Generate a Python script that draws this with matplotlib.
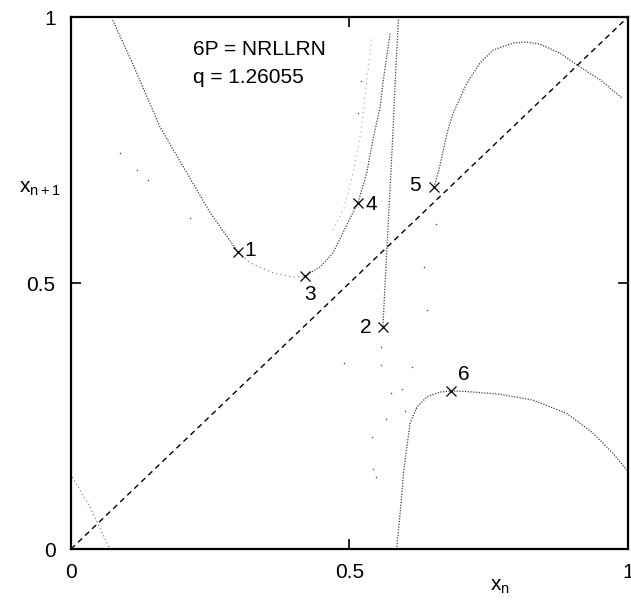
import matplotlib
matplotlib.use("Agg")
import matplotlib.pyplot as plt

plt.rcParams['font.family'] = ['Liberation Sans', 'DejaVu Sans']

# Branches of the return map x_{n+1} vs x_n
branch_a_x = [0.075, 0.110, 0.160, 0.208, 0.250, 0.300]
branch_a_y = [0.994, 0.914, 0.793, 0.707, 0.632, 0.558]

branch_b_x = [0.300, 0.321, 0.363, 0.399, 0.420]
branch_b_y = [0.558, 0.538, 0.519, 0.511, 0.513]

branch_c_x = [0.420, 0.447, 0.470, 0.488, 0.506, 0.515, 0.531, 0.542, 0.555, 0.560, 0.573]
branch_c_y = [0.513, 0.530, 0.556, 0.594, 0.632, 0.650, 0.707, 0.769, 0.831, 0.876, 0.970]

branch_d_x = [0.588, 0.583, 0.578, 0.572, 0.567, 0.563, 0.560]
branch_d_y = [0.995, 0.900, 0.782, 0.660, 0.562, 0.480, 0.417]

branch_e_x = [0.652, 0.662, 0.675, 0.686, 0.711, 0.734, 0.758, 0.794, 0.818, 0.842, 0.878, 0.914, 0.950, 0.989]
branch_e_y = [0.680, 0.719, 0.781, 0.819, 0.876, 0.913, 0.938, 0.951, 0.953, 0.949, 0.932, 0.906, 0.882, 0.848]

branch_f_x = [0.585, 0.591, 0.597, 0.603, 0.609, 0.621, 0.639, 0.662, 0.682, 0.711, 0.770, 0.829, 0.890, 0.937, 0.973, 0.998]
branch_f_y = [0.004, 0.068, 0.143, 0.192, 0.237, 0.267, 0.286, 0.295, 0.297, 0.296, 0.291, 0.280, 0.255, 0.218, 0.180, 0.148]

branch_g_x = [0.002, 0.034, 0.068]
branch_g_y = [0.135, 0.079, 0.004]

# Faint secondary trace next to branch C
branch_h_x = [0.470, 0.490, 0.505, 0.520, 0.530, 0.540]
branch_h_y = [0.600, 0.640, 0.700, 0.780, 0.870, 0.960]

# Isolated iterates
scatter_x = [0.088, 0.118, 0.138, 0.214, 0.557, 0.556, 0.575, 0.565, 0.612, 0.620, 0.548, 0.540, 0.542,
             0.634, 0.640, 0.490, 0.655, 0.595, 0.600, 0.520, 0.515]
scatter_y = [0.744, 0.712, 0.694, 0.622, 0.380, 0.345, 0.293, 0.245, 0.342, 0.265, 0.135, 0.210, 0.150,
             0.530, 0.450, 0.350, 0.610, 0.300, 0.260, 0.880, 0.820]

# Period-6 orbit points (labelled 1..6)
orbit_x = [0.300, 0.560, 0.420, 0.515, 0.652, 0.682]
orbit_y = [0.558, 0.417, 0.513, 0.650, 0.680, 0.297]
orbit_labels = ["1", "2", "3", "4", "5", "6"]

x_ticks = [0, 0.5, 1]
x_tick_labels = ["0", "0.5", "1"]

FS = 15

fig = plt.figure(figsize=(6.31, 6.01), dpi=100)
ax = fig.add_axes([0.1125, 0.0865, 0.8827, 0.8852])

dot_style = dict(color="0.25", lw=0.9, linestyle=(0, (1, 1.2)))
for bx, by in [(branch_a_x, branch_a_y), (branch_c_x, branch_c_y), (branch_d_x, branch_d_y),
               (branch_e_x, branch_e_y), (branch_f_x, branch_f_y)]:
    ax.plot(bx, by, **dot_style)
ax.plot(branch_b_x, branch_b_y, color="0.45", lw=0.8, linestyle=(0, (1, 3)))
ax.plot(branch_g_x, branch_g_y, color="0.45", lw=0.8, linestyle=(0, (1, 2.5)))
ax.plot(branch_h_x, branch_h_y, color="0.55", lw=0.7, linestyle=(0, (1, 4)))
ax.scatter(scatter_x, scatter_y, s=1.2, color="0.3", linewidths=0)

# Diagonal x_{n+1} = x_n
ax.plot([0, 1], [0, 1], color="black", lw=1.0, linestyle=(0, (4, 3)))

ax.plot(orbit_x, orbit_y, linestyle="none", marker="x", color="black", markersize=7, mew=0.9)

offsets = {"1": (9, 1), "2": (-12, 0), "3": (4, -13), "4": (10, -1), "5": (-14, 1), "6": (9, 12)}
for px, py, lab in zip(orbit_x, orbit_y, orbit_labels):
    dx, dy = offsets[lab]
    ax.annotate(lab, (px, py), xytext=(dx, dy), textcoords="offset points",
                ha="center", va="center", fontsize=FS)

ax.text(0.219, 0.938, "6P = NRLLRN", fontsize=FS, va="center", ha="left")
ax.text(0.219, 0.887, "q = 1.26055", fontsize=FS, va="center", ha="left")

ax.set_xlim(0, 1)
ax.set_ylim(0, 1)
ax.set_xticks(x_ticks)
ax.set_xticklabels(x_tick_labels)
ax.set_yticks(x_ticks)
ax.set_yticklabels(x_tick_labels)
ax.tick_params(direction="in", length=7, width=1.2, top=True, right=True, labelsize=FS)
ax.tick_params(axis="x", pad=10)
ax.tick_params(axis="y", pad=11)
for sp in ax.spines.values():
    sp.set_linewidth(1.6)

ax.set_xlabel(r"$\mathregular{x_n}$", fontsize=FS, labelpad=0)
ax.xaxis.set_label_coords(0.77, -0.052)
ax.set_ylabel(r"$\mathregular{x_{n+1}}$", fontsize=FS, rotation=0, labelpad=0)
ax.yaxis.set_label_coords(-0.055, 0.66)

fig.savefig("out.png", dpi=100, facecolor="white")
